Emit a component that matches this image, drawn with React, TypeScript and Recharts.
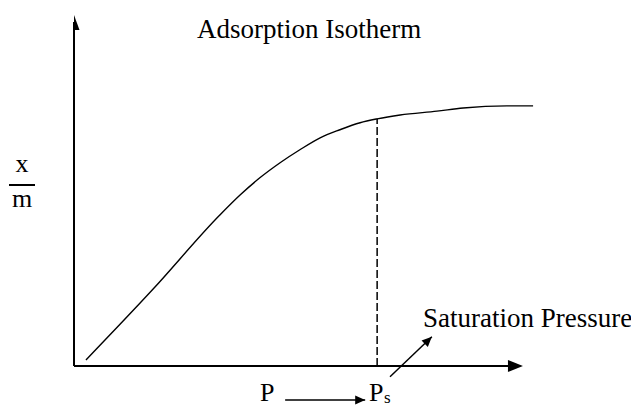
import React from "react";
import { ComposedChart, Line, Scatter, XAxis, YAxis, ReferenceLine } from "recharts";

// Adsorption isotherm curve (P on x, x/m on y), arbitrary units
const pressure = [2.6, 17.2, 31.7, 36.1, 40.4, 44.8, 49.1, 53.5, 57.8, 62.2, 65.9, 70.9, 78.9, 84.6, 94.1, 99.8];
const adsorbed = [1.7, 21.9, 43.0, 48.7, 53.6, 57.9, 61.6, 65.0, 67.3, 69.3, 70.4, 71.5, 72.6, 73.5, 74.1, 74.1];

// Saturation pressure marker
const satPressure = 65.9;
const satAdsorbed = 70.4;

// Annotation / axis arrow geometry in data units
const yAxisTop = 100;
const xAxisEnd = 97.6;
const satArrowFrom = { x: 68.7, y: -3.1 };
const satArrowTo = { x: 77.8, y: 8.3 };
const pArrowFrom = { x: 45.9, y: -9.7 };
const pArrowTo = { x: 63.3, y: -9.7 };

// Labels
const titleText = "Adsorption Isotherm";
const satText = "Saturation Pressure";

const curve = pressure.map((p, i) => ({ x: p, y: adsorbed[i] }));

const heads = [
  { x: 0, y: yAxisTop, angle: -90, len: 15, half: 5.5 },
  { x: xAxisEnd, y: 0, angle: 0, len: 15, half: 6 },
  { x: satArrowTo.x, y: satArrowTo.y, angle: -44, len: 10, half: 4.5 },
  { x: pArrowTo.x, y: pArrowTo.y, angle: 0, len: 10, half: 4.5 },
];

const Head = (props: any) => {
  const { cx, cy, payload } = props;
  if (cx == null || cy == null) return null;
  const { angle, len, half } = payload;
  return (
    <polygon
      points={`0,0 ${-len},${-half} ${-len},${half}`}
      transform={`translate(${cx},${cy}) rotate(${angle})`}
      fill="#000"
      stroke="none"
    />
  );
};

const serif = '"Liberation Serif", "DejaVu Serif", "Times New Roman", serif';

export default function App() {
  return (
    <div style={{ position: "relative", width: 631, height: 400 }}>
      <ComposedChart
        width={631}
        height={400}
        margin={{ top: 7, right: 105, bottom: 0, left: 66 }}
      >
        <XAxis dataKey="x" type="number" domain={[0, 100]} hide allowDataOverflow />
        <YAxis dataKey="y" type="number" domain={[-12, 100]} hide allowDataOverflow />
        <ReferenceLine
          segment={[{ x: 0, y: 0 }, { x: 0, y: yAxisTop - 2 }]}
          stroke="#000"
          strokeWidth={2}
          ifOverflow="visible"
        />
        <ReferenceLine
          segment={[{ x: 0, y: 0 }, { x: xAxisEnd - 2, y: 0 }]}
          stroke="#000"
          strokeWidth={2}
          ifOverflow="visible"
        />
        <ReferenceLine
          segment={[{ x: satPressure, y: 0 }, { x: satPressure, y: satAdsorbed }]}
          stroke="#000"
          strokeWidth={1.5}
          strokeDasharray="8 3"
          ifOverflow="visible"
        />
        <ReferenceLine
          segment={[satArrowFrom, satArrowTo]}
          stroke="#000"
          strokeWidth={1.5}
          ifOverflow="visible"
        />
        <ReferenceLine
          segment={[pArrowFrom, pArrowTo]}
          stroke="#000"
          strokeWidth={1.5}
          ifOverflow="visible"
        />
        <Line
          data={curve}
          dataKey="y"
          type="monotone"
          stroke="#000"
          strokeWidth={1.4}
          dot={false}
          isAnimationActive={false}
        />
        <Scatter data={heads} dataKey="y" shape={Head} isAnimationActive={false} />
      </ComposedChart>
      <svg
        width={639}
        height={408}
        style={{ position: "absolute", left: -8, top: -8, pointerEvents: "none", fontFamily: serif }}
      >
        <g fill="#000" style={{ fontFamily: serif }}>
          <text x={197} y={38} fontSize={27}>{titleText}</text>
          <text x={22} y={172} fontSize={26} textAnchor="middle">x</text>
          <line x1={9} x2={35} y1={185} y2={185} stroke="#000" strokeWidth={2} />
          <text x={22} y={207} fontSize={26} textAnchor="middle">m</text>
          <text x={423} y={327} fontSize={27}>{satText}</text>
          <text x={260} y={401} fontSize={26}>P</text>
          <text x={369} y={401} fontSize={26}>P</text>
          <text x={384} y={403} fontSize={17}>s</text>
        </g>
      </svg>
    </div>
  );
}
